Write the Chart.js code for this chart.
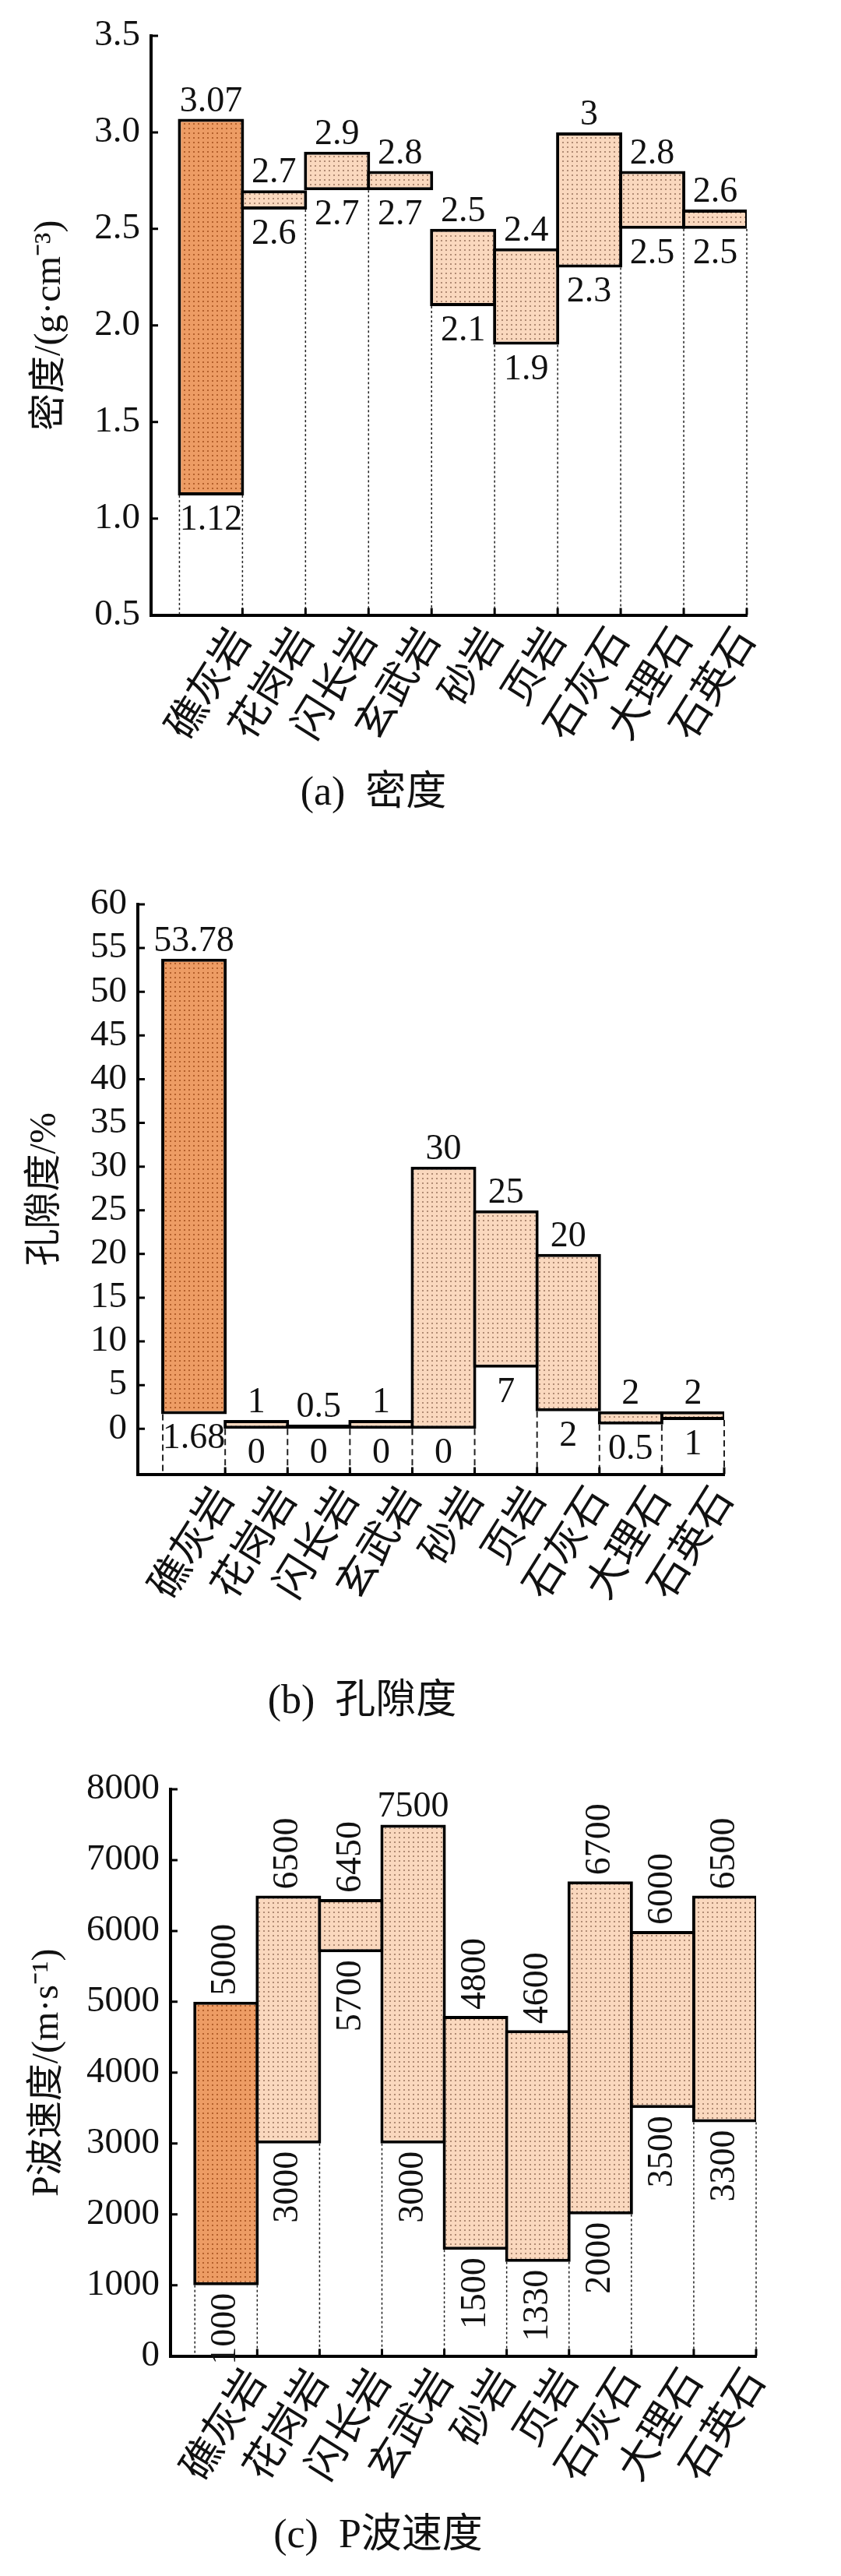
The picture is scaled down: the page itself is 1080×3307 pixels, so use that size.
<!DOCTYPE html>
<html>
<head>
<meta charset="utf-8">
<script src="https://cdn.jsdelivr.net/npm/chart.js@4.4.1/dist/chart.umd.min.js"></script>
<style>
    html, body { margin: 0; padding: 0; background: #fff; }
    body { width: 1080px; height: 3307px; position: relative; overflow: hidden; }
    .panel { position: absolute; left: 0; width: 1080px; }
</style>
</head>
<body>
<div class="panel" style="top:0;height:1090px"><canvas id="densityChart"></canvas></div>
<div class="panel" style="top:1090px;height:1140px"><canvas id="porosityChart"></canvas></div>
<div class="panel" style="top:2230px;height:1077px"><canvas id="velocityChart"></canvas></div>

<script>
const rockTypes = ["礁灰岩", "花岗岩", "闪长岩", "玄武岩", "砂岩", "页岩", "石灰石", "大理石", "石英石"];

// (a) density, g/cm3
const densityMax = [3.07, 2.7, 2.9, 2.8, 2.5, 2.4, 3, 2.8, 2.6];
const densityMin = [1.12, 2.6, 2.7, 2.7, 2.1, 1.9, 2.3, 2.5, 2.5];
const densityTicks = [0.5, 1.0, 1.5, 2.0, 2.5, 3.0, 3.5];

// (b) porosity, %
const porosityMax = [53.78, 1, 0.5, 1, 30, 25, 20, 2, 2];
const porosityMin = [1.68, 0, 0, 0, 0, 7, 2, 0.5, 1];
const porosityTicks = [0, 5, 10, 15, 20, 25, 30, 35, 40, 45, 50, 55, 60];

// (c) P-wave velocity, m/s
const velocityMax = [5000, 6500, 6450, 7500, 4800, 4600, 6700, 6000, 6500];
const velocityMin = [1000, 3000, 5700, 3000, 1500, 1330, 2000, 3500, 3300];
const velocityTicks = [0, 1000, 2000, 3000, 4000, 5000, 6000, 7000, 8000];

const SERIF = "'Liberation Serif', 'Times New Roman', 'Noto Sans CJK SC', serif";
const CJK = "'Noto Sans CJK SC', sans-serif";
const INK = "#111";

function dotFill(bg, dot) {
    const c = document.createElement("canvas");
    c.width = 6;
    c.height = 6;
    const g = c.getContext("2d");
    g.fillStyle = bg;
    g.fillRect(0, 0, 6, 6);
    g.fillStyle = dot;
    g.fillRect(2, 2, 2, 2);
    return g.createPattern(c, "repeat");
}

const darkFill = dotFill("#ED9C64", "#B4602C");
const lightFill = dotFill("#FAD8BE", "#B08B74");

// guide lines under the bars, value labels and inward tick marks
function rangeDecor(spec) {
    return {
        id: "rangeDecor",
        beforeDatasetsDraw(chart) {
            const { ctx, scales: { x, y } } = chart;
            ctx.save();
            ctx.strokeStyle = "#222";
            ctx.lineWidth = spec.guideWidth;
            ctx.setLineDash(spec.guideDash);
            for (let k = 0; k <= spec.low.length; k++) {
                const near = [spec.low[k - 1], spec.low[k]].filter((v) => v !== undefined);
                const px = x.getPixelForValue(k - 0.5);
                ctx.beginPath();
                ctx.moveTo(px, y.getPixelForValue(Math.min(...near)));
                ctx.lineTo(px, y.bottom);
                ctx.stroke();
            }
            ctx.restore();
        },
        afterDatasetsDraw(chart) {
            const { ctx, scales: { x, y } } = chart;
            ctx.save();
            ctx.fillStyle = INK;
            ctx.font = spec.valueSize + "px " + SERIF;
            spec.high.forEach((hi, i) => {
                const lo = spec.low[i];
                const cx = x.getPixelForValue(i);
                const yHi = y.getPixelForValue(hi);
                const yLo = y.getPixelForValue(lo);
                if (spec.vertical && !spec.flatTop.includes(i)) {
                    ctx.save();
                    ctx.translate(cx, yHi - 8);
                    ctx.rotate(-Math.PI / 2);
                    ctx.textAlign = "left";
                    ctx.textBaseline = "middle";
                    ctx.fillText(String(hi), 0, 0);
                    ctx.restore();
                } else {
                    ctx.textAlign = "center";
                    ctx.textBaseline = "alphabetic";
                    ctx.fillText(String(hi), cx, yHi - 10);
                }
                if (spec.vertical) {
                    ctx.save();
                    ctx.translate(cx, yLo + 10);
                    ctx.rotate(-Math.PI / 2);
                    ctx.textAlign = "right";
                    ctx.textBaseline = "middle";
                    ctx.fillText(String(lo), 0, 0);
                    ctx.restore();
                } else {
                    ctx.textAlign = "center";
                    ctx.textBaseline = "alphabetic";
                    ctx.fillText(String(lo), cx, yLo + 44);
                }
            });
            ctx.restore();
        },
        afterDraw(chart) {
            const { ctx, chartArea, scales: { x, y } } = chart;
            ctx.save();
            ctx.strokeStyle = "#000";
            ctx.lineWidth = 3;
            ctx.beginPath();
            spec.ticks.forEach((v) => {
                const py = y.getPixelForValue(v);
                ctx.moveTo(chartArea.left, py);
                ctx.lineTo(chartArea.left + 9, py);
            });
            for (let k = 1; k <= rockTypes.length; k++) {
                const px = x.getPixelForValue(k - 0.5);
                ctx.moveTo(px, chartArea.bottom);
                ctx.lineTo(px, chartArea.bottom - 9);
            }
            ctx.stroke();
            ctx.restore();
        },
    };
}

function buildChart(canvasId, spec) {
    const canvas = document.getElementById(canvasId);
    return new Chart(canvas.getContext("2d"), {
        type: "bar",
        data: {
            datasets: [
                {
                    data: rockTypes.map((name, i) => ({ x: i, y: [spec.low[i], spec.high[i]] })),
                    backgroundColor: rockTypes.map((name, i) => (i === 0 ? darkFill : lightFill)),
                    borderColor: "#000",
                    borderWidth: 4,
                    borderSkipped: false,
                    // bars overlap by one border width so shared edges stay single
                    barPercentage: 1.05,
                    categoryPercentage: 1,
                },
            ],
        },
        options: {
            responsive: true,
            maintainAspectRatio: false,
            animation: false,
            layout: { padding: spec.padding },
            plugins: {
                legend: { display: false },
                tooltip: { enabled: false },
                title: {
                    display: true,
                    position: "bottom",
                    text: spec.caption,
                    color: INK,
                    font: { family: SERIF, size: 52, weight: "normal" },
                    padding: { top: 0, bottom: spec.captionGap },
                },
            },
            scales: {
                x: {
                    type: "linear",
                    min: spec.xMin,
                    max: 8.5,
                    offset: false,
                    grid: { display: false, drawTicks: false },
                    border: { display: true, color: "#000", width: 4 },
                    afterBuildTicks: (scale) => {
                        scale.ticks = rockTypes.map((name, i) => ({ value: i }));
                    },
                    afterFit: (scale) => {
                        scale.height = spec.xAxisHeight;
                        scale.paddingLeft = 0;
                        scale.paddingRight = 0;
                    },
                    ticks: {
                        autoSkip: false,
                        minRotation: 58,
                        maxRotation: 58,
                        padding: 4,
                        labelOffset: 36,
                        color: INK,
                        font: { family: CJK, size: 52 },
                        callback: (value, index) => rockTypes[index],
                    },
                },
                y: {
                    type: "linear",
                    min: spec.yMin,
                    max: spec.yMax,
                    grid: { display: false, drawTicks: false },
                    border: { display: true, color: "#000", width: 4 },
                    afterBuildTicks: (scale) => {
                        scale.ticks = spec.ticks.map((v) => ({ value: v }));
                    },
                    afterFit: (scale) => {
                        scale.width = spec.yAxisWidth;
                        scale.paddingTop = 0;
                        scale.paddingBottom = 0;
                    },
                    ticks: {
                        padding: 14,
                        color: INK,
                        font: { family: SERIF, size: 47 },
                        callback: spec.tickFormat,
                    },
                    title: {
                        display: true,
                        text: spec.yTitle,
                        color: INK,
                        font: { family: SERIF, size: 48 },
                        padding: { top: spec.yTitleGap, bottom: 0 },
                    },
                },
            },
        },
        plugins: [rangeDecor(spec)],
    });
}

buildChart("densityChart", {
    high: densityMax,
    low: densityMin,
    ticks: densityTicks,
    tickFormat: (v) => v.toFixed(1),
    yMin: 0.5,
    yMax: 3.5,
    xMin: -0.95,
    yTitle: "密度/(g·cm⁻³)",
    yTitleGap: 36,
    caption: "(a)\u2002密度",
    captionGap: 39,
    padding: { top: 46, right: 121, bottom: 0, left: 0 },
    yAxisWidth: 194,
    xAxisHeight: 199,
    valueSize: 46,
    vertical: false,
    flatTop: [],
    guideWidth: 1.5,
    guideDash: [3, 3],
});

buildChart("porosityChart", {
    high: porosityMax,
    low: porosityMin,
    ticks: porosityTicks,
    tickFormat: (v) => String(v),
    yMin: -5.2,
    yMax: 60,
    xMin: -0.9,
    yTitle: "孔隙度/%",
    yTitleGap: 30,
    caption: "(b)\u2002孔隙度",
    captionGap: 13,
    padding: { top: 71, right: 150, bottom: 0, left: 0 },
    yAxisWidth: 177,
    xAxisHeight: 262,
    valueSize: 46,
    vertical: false,
    flatTop: [],
    guideWidth: 2,
    guideDash: [8, 5],
});

buildChart("velocityChart", {
    high: velocityMax,
    low: velocityMin,
    ticks: velocityTicks,
    tickFormat: (v) => String(v),
    yMin: 0,
    yMax: 8000,
    xMin: -0.89,
    yTitle: "P波速度/(m·s⁻¹)",
    yTitleGap: 33,
    caption: "(c)\u2002P波速度",
    captionGap: 19,
    padding: { top: 67, right: 109, bottom: 0, left: 0 },
    yAxisWidth: 219,
    xAxisHeight: 201,
    valueSize: 46,
    vertical: true,
    flatTop: [3],
    guideWidth: 1.5,
    guideDash: [3, 3],
});
</script>
</body>
</html>
